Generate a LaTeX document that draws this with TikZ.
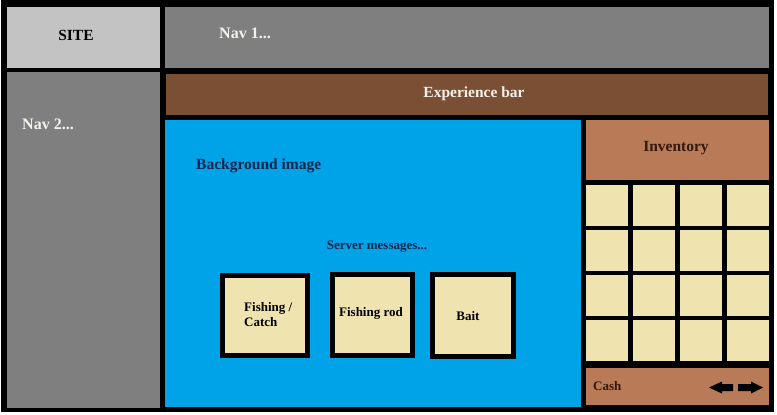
\documentclass[tikz,border=0pt]{standalone}
\usepackage{fontspec}
\setmainfont{Liberation Serif}
\usepackage{tikz}
\definecolor{sitegray}{RGB}{195,195,195}
\definecolor{navgray}{RGB}{127,127,127}
\definecolor{xpbrown}{RGB}{122,79,52}
\definecolor{invbrown}{RGB}{185,122,87}
\definecolor{sky}{RGB}{0,162,232}
\definecolor{cream}{RGB}{239,228,176}
\definecolor{navy}{RGB}{18,38,78}
\definecolor{darkbrown}{RGB}{50,25,12}
\definecolor{offwhite}{RGB}{245,242,235}
\tikzstyle{bigtext} = [font=\bfseries\fontsize{15.5}{17}\selectfont, inner sep=0pt]
\tikzstyle{navtext} = [font=\bfseries\fontsize{16}{18}\selectfont, inner sep=0pt, text=offwhite, anchor=west]
\tikzstyle{smalltext} = [font=\bfseries\fontsize{13}{15}\selectfont, inner sep=0pt]
\tikzstyle{slot} = [fill=cream]
\tikzstyle{tool} = [draw=black, line width=5pt, fill=cream]

\begin{document}
\begin{tikzpicture}[x=1pt, y=-1pt]
        \useasboundingbox (0,0) rectangle (777,415);
        % frame and panels
        \fill[black] (1,0) rectangle (774,412);
        \fill[sitegray] (7,7) rectangle (160,68);
        \fill[navgray] (165,7) rectangle (769,68);
        \fill[navgray] (7,72) rectangle (160,408);
        \fill[xpbrown] (166,74) rectangle (768,115);
        \fill[sky] (165,120) rectangle (581,407);
        \fill[invbrown] (586,120) rectangle (769,180);
        \fill[invbrown] (586,368) rectangle (769,405);

        % inventory slots
        \foreach \i in {0,...,3}
            \foreach \j in {0,...,3}
                \fill[slot] (586+47*\i,185+45*\j) rectangle +(42,41);

        % tool boxes
        \draw[tool] (222.5,275.5) rectangle (307.5,355.5);
        \draw[tool] (332.5,274.5) rectangle (412.5,355.5);
        \draw[tool] (432.5,274.5) rectangle (513.5,356.5);

        % page arrows
        \fill[black] (709,387.5) -- (722,381.5) -- (722,384) -- (733,384) -- (733,391) -- (722,391) -- (722,393.5) -- cycle;
        \fill[black] (763,387.5) -- (751,381.5) -- (751,384) -- (738,384) -- (738,391) -- (751,391) -- (751,393.5) -- cycle;

        % texts
        \node[bigtext] at (76,35) (site) {SITE};
        \node[navtext] at (219,33) (nav1) {Nav 1...};
        \node[navtext] at (22,124) (nav2) {Nav 2...};
        \node[bigtext, text=offwhite] at (474,94) (xp) {Experience bar};
        \node[bigtext, text=navy, anchor=west] at (196,166) (bg) {Background image};
        \node[smalltext, text=navy] at (377,247) (msg) {Server messages...};
        \node[bigtext, text=darkbrown] at (676,148) (inv) {Inventory};
        \node[smalltext, text=darkbrown, anchor=west] at (593,386) (cash) {Cash};
        \node[smalltext, align=left, anchor=west] at (244,315) (catch) {Fishing /\\Catch};
        \node[smalltext] at (371,313) (rod) {Fishing rod};
        \node[smalltext] at (468,316) (bait) {Bait};
    \end{tikzpicture}
\end{document}
